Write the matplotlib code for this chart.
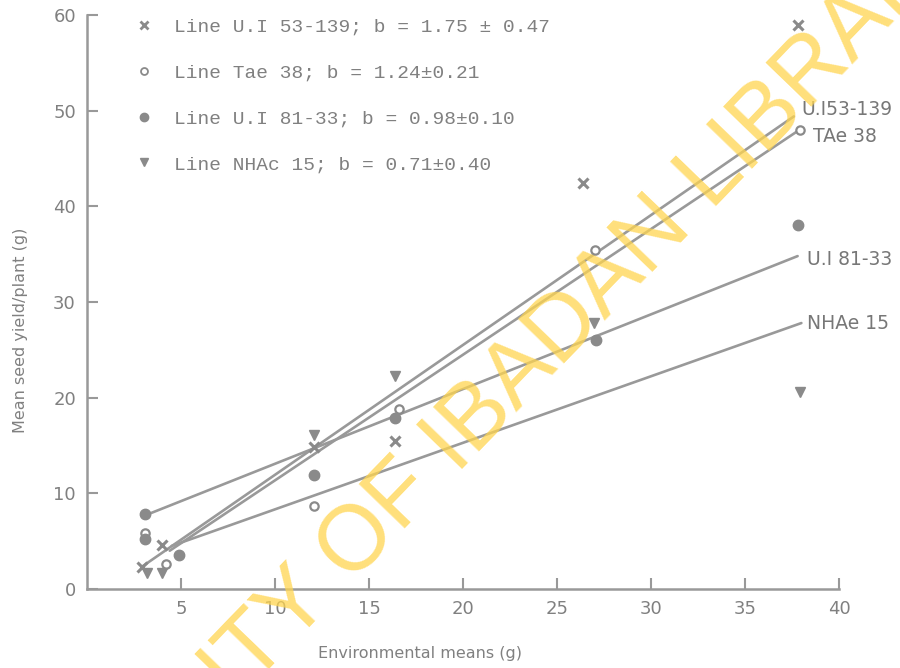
import matplotlib.pyplot as plt
from matplotlib.lines import Line2D

# points (environmental mean, seed yield)
ui53_x = [2.9, 4.0, 12.05, 16.4, 26.4, 37.8]
ui53_y = [2.3, 4.6, 14.8, 15.5, 42.4, 59.0]
tae_x = [3.1, 4.2, 12.1, 16.6, 27.0, 37.9]
tae_y = [5.8, 2.6, 8.7, 18.8, 35.4, 48.0]
ui81_x = [3.1, 3.1, 4.9, 12.05, 16.4, 27.1, 37.8]
ui81_y = [7.8, 5.2, 3.6, 11.9, 17.9, 26.0, 38.1]
nha_x = [3.2, 4.0, 12.05, 16.4, 26.95, 37.9]
nha_y = [1.7, 1.7, 16.1, 22.3, 27.8, 20.6]

# regression lines (ends as drawn)
fit_ui53 = ([2.9, 37.6], [2.3, 49.4])
fit_tae = ([4.4, 37.9], [4.0, 48.0])
fit_ui81 = ([3.1, 37.8], [7.7, 34.8])
fit_nha = ([4.5, 38.0], [4.5, 27.8])

end_labels = ["U.I53-139", "TAe 38", "U.I 81-33", "NHAe 15"]
legend_labels = [
    "Line U.I 53-139; b = 1.75 ± 0.47",
    "Line Tae 38; b = 1.24±0.21",
    "Line U.I 81-33; b = 0.98±0.10",
    "Line NHAc 15; b = 0.71±0.40",
]

grey = "#8a8a8a"
fig = plt.figure(figsize=(9, 6.68), dpi=100)
ax = fig.add_axes([0.0967, 0.1183, 0.8355, 0.8592])

fits = [fit_ui53, fit_tae, fit_ui81, fit_nha]
for fx, fy in fits:
    ax.plot(fx, fy, color="#999999", lw=1.9, solid_capstyle="round", zorder=2)

ax.plot(ui53_x, ui53_y, ls="none", marker="x", ms=6.5, mew=2.2, color=grey, zorder=3)
ax.plot(tae_x, tae_y, ls="none", marker="o", ms=6, mew=1.6, mfc="white", color=grey, zorder=3)
ax.plot(ui81_x, ui81_y, ls="none", marker="o", ms=7.5, color=grey, zorder=3)
ax.plot(nha_x, nha_y, ls="none", marker="v", ms=7.5, color=grey, zorder=3)

offs = [(8, 7), (13, -7), (9, -3), (6, 0)]
for (fx, fy), lab, off in zip(fits, end_labels, offs):
    ax.annotate(lab, (fx[-1], fy[-1]), xytext=off, textcoords="offset pixels",
                ha="left", va="center", fontsize=13.5, color="#777777")

handles = [
    Line2D([], [], ls="none", marker="x", ms=6, mew=2, color=grey),
    Line2D([], [], ls="none", marker="o", ms=5, mew=1.3, mfc="white", color=grey),
    Line2D([], [], ls="none", marker="o", ms=6, color=grey),
    Line2D([], [], ls="none", marker="v", ms=6, color=grey),
]
leg = ax.legend(handles, legend_labels, loc="upper left", bbox_to_anchor=(0.04, 1.025),
                frameon=False, handlelength=1.0, handletextpad=1.05, labelspacing=1.45,
                prop={"family": "Liberation Mono", "size": 14})
for t in leg.get_texts():
    t.set_color("#808080")

ax.set_xlim(0, 40)
ax.set_ylim(0, 60)
ax.set_xticks([5, 10, 15, 20, 25, 30, 35, 40])
ax.set_yticks([0, 10, 20, 30, 40, 50, 60])
ax.tick_params(direction="in", length=8, width=1.5, color="#999999",
               labelcolor="#808080", labelsize=13, pad=8)
for s in ["top", "right"]:
    ax.spines[s].set_visible(False)
for s in ["left", "bottom"]:
    ax.spines[s].set_color("#999999")
    ax.spines[s].set_linewidth(1.8)

ax.set_xlabel("Environmental means (g)", fontsize=11.5, color="#808080")
ax.xaxis.set_label_coords(0.443, -0.1)
ax.set_ylabel("Mean seed yield/plant (g)", fontsize=11.5, color="#808080")
ax.yaxis.set_label_coords(-0.078, 0.45)

# library watermark over the scan
fig.text(0.5, 0.33, "UNIVERSITY OF IBADAN LIBRARY", rotation=46,
         ha="center", va="center", fontsize=66, color="#FFD54F", alpha=0.75,
         family="Liberation Sans", zorder=10)

fig.savefig("out.png", dpi=100)
